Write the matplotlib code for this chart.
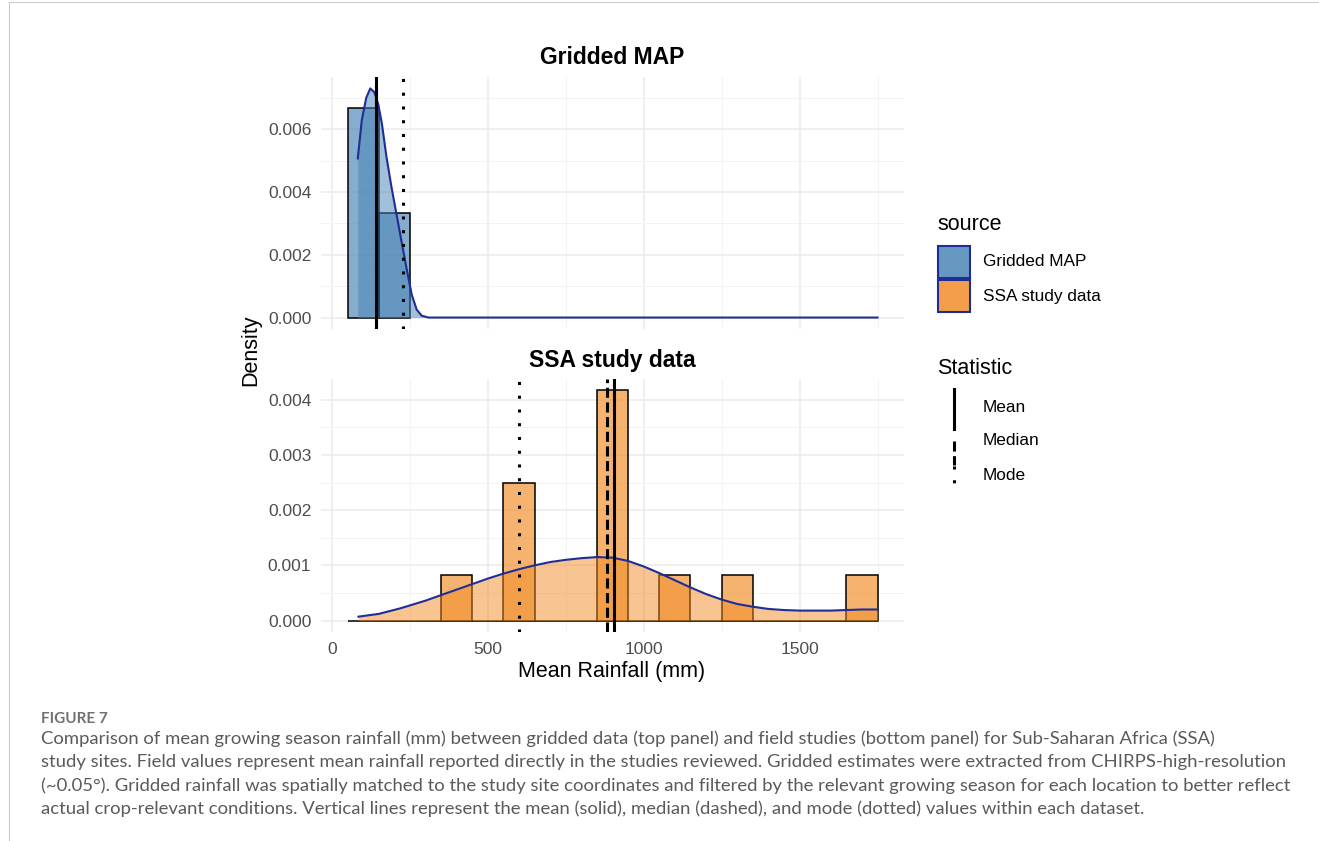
import matplotlib
matplotlib.use("Agg")
import matplotlib.pyplot as plt
from matplotlib.colors import to_rgba
from matplotlib.lines import Line2D
from matplotlib.patches import Rectangle
from matplotlib.ticker import MultipleLocator, FormatStrFormatter

# --- data ---
bin_width = 100

grid_bin_left = [50, 150]
grid_density = [0.00667, 0.00333]

ssa_bin_left = [50, 150, 250, 350, 450, 550, 650, 750, 850, 950, 1050,
                1150, 1250, 1350, 1450, 1550, 1650]
ssa_density = [0, 0, 0, 0.00083, 0, 0.0025, 0, 0, 0.00417, 0, 0.00083,
               0, 0.00083, 0, 0, 0, 0.00083]

grid_kde_x = [83, 96, 110, 123, 136, 149, 160, 175, 191, 207, 223, 239,
              256, 272, 288, 310, 400, 1000, 1750]
grid_kde_y = [0.00507, 0.0063, 0.0070, 0.0073, 0.00718, 0.00678, 0.0062,
              0.00512, 0.00416, 0.0033, 0.00244, 0.00159, 0.00073, 0.00025,
              0.00006, 0.0, 0.0, 0.0, 0.0]

ssa_kde_x = [85, 150, 219, 300, 350, 400, 450, 500, 550, 600, 650, 700, 750,
             800, 850, 900, 950, 1000, 1050, 1100, 1150, 1200, 1250, 1300,
             1350, 1400, 1450, 1500, 1550, 1600, 1650, 1700, 1750]
ssa_kde_y = [0.00007, 0.00012, 0.00022, 0.00036, 0.00046, 0.00056, 0.00066,
             0.00076, 0.00085, 0.00093, 0.00100, 0.00106, 0.00110, 0.00113,
             0.00115, 0.00114, 0.00108, 0.00098, 0.00086, 0.00073, 0.00060,
             0.00048, 0.00038, 0.00030, 0.00025, 0.00021, 0.00019, 0.00018,
             0.00018, 0.00018, 0.00019, 0.00020, 0.00020]

grid_stats = {"Mean": 140, "Median": 140, "Mode": 229}
ssa_stats = {"Mean": 905, "Median": 883, "Mode": 600}

sources = ["Gridded MAP", "SSA study data"]
stat_names = ["Mean", "Median", "Mode"]

# --- styling ---
W, H = 1319, 841
blue = "#4682B4"
orange = "#F28A24"
navy = "#1F2D96"
hist_alpha = 0.65
dens_alpha = 0.5
grid_major = "#EBEBEB"
grid_minor = "#F3F3F3"
stat_styles = {"Mean": "-", "Median": (0, (3.3, 1.5)), "Mode": (0, (1, 3.5))}

plt.rcParams["font.family"] = ["Liberation Sans", "DejaVu Sans"]


def fx(x):
    return x / W


def fy(y):
    return 1 - y / H


fig = plt.figure(figsize=(W / 100, H / 100), dpi=100)

ax1 = fig.add_axes([fx(321), fy(329), 583 / W, 252 / H])
ax2 = fig.add_axes([fx(321), fy(632), 583 / W, 253 / H])

panels = [
    (ax1, sources[0], blue, grid_bin_left, grid_density, grid_kde_x, grid_kde_y,
     grid_stats, (-0.000365, 0.007665), 0.002, 0.001),
    (ax2, sources[1], orange, ssa_bin_left, ssa_density, ssa_kde_x, ssa_kde_y,
     ssa_stats, (-0.000208, 0.004378), 0.001, 0.0005),
]

for ax, title, col, left, dens, kx, ky, stats, ylim, ymaj, ymin in panels:
    ax.bar(left, dens, width=bin_width, align="edge", color=col, alpha=hist_alpha,
           edgecolor="none", zorder=2)
    ax.bar(left, dens, width=bin_width, align="edge", color="none",
           edgecolor="black", linewidth=1.1, zorder=2.1)
    ax.fill_between(kx, ky, color=col, alpha=dens_alpha, linewidth=0, zorder=3)
    ax.plot(kx, ky, color=navy, linewidth=1.5, zorder=4)
    for name in ["Median", "Mode", "Mean"]:
        ax.axvline(stats[name], color="black", linewidth=2.2,
                   linestyle=stat_styles[name], dash_capstyle="butt", zorder=5)

    ax.set_xlim(-35, 1835)
    ax.set_ylim(*ylim)
    ax.xaxis.set_major_locator(MultipleLocator(500))
    ax.xaxis.set_minor_locator(MultipleLocator(250))
    ax.yaxis.set_major_locator(MultipleLocator(ymaj))
    ax.yaxis.set_minor_locator(MultipleLocator(ymin))
    ax.yaxis.set_major_formatter(FormatStrFormatter("%.3f"))
    ax.grid(which="major", color=grid_major, linewidth=1.1)
    ax.grid(which="minor", color=grid_minor, linewidth=0.7)
    ax.set_axisbelow(True)
    for s in ax.spines.values():
        s.set_visible(False)
    ax.tick_params(which="both", length=0, labelsize=12.5, labelcolor="#4D4D4D",
                   pad=7)
    ax.set_title(title, fontsize=16.5, fontweight="bold", pad=9)

ax1.tick_params(axis="x", labelbottom=False)

fig.text(fx(612), fy(672), "Mean Rainfall (mm)", fontsize=15.5, ha="center",
         va="center")
fig.text(fx(251), fy(350), "Density", fontsize=15.5, ha="center", va="center",
         rotation=90)

# --- legends drawn by hand ---
key_alpha = 1 - (1 - hist_alpha) * (1 - dens_alpha)
fig.text(fx(937), fy(225), "source", fontsize=15.5, va="center")
for i, (name, col) in enumerate(zip(sources, [blue, orange])):
    top = 246 + i * 34
    fig.add_artist(Rectangle((fx(938), fy(top + 32)), 32 / W, 32 / H,
                             transform=fig.transFigure,
                             facecolor=to_rgba(col, key_alpha),
                             edgecolor=navy, linewidth=1.5))
    fig.text(fx(983), fy(top + 16), name, fontsize=12.4, va="center")

fig.text(fx(937), fy(369), "Statistic", fontsize=15.5, va="center")
key_spans = {"Mean": (389, 429), "Median": (441, 465), "Mode": (466, 492)}
for i, name in enumerate(stat_names):
    y0, y1 = key_spans[name]
    fig.add_artist(Line2D([fx(954), fx(954)], [fy(y0), fy(y1)],
                          transform=fig.transFigure, color="black",
                          linewidth=2.2, linestyle=stat_styles[name],
                          dash_capstyle="butt"))
    fig.text(fx(983), fy(407 + i * 34), name, fontsize=12.4, va="center")

# --- page frame and caption ---
fig.add_artist(Line2D([fx(9), 1], [fy(2), fy(2)], transform=fig.transFigure,
                      color="#CCCCCC", linewidth=0.8))
fig.add_artist(Line2D([fx(9), fx(9)], [fy(2), 0], transform=fig.transFigure,
                      color="#CCCCCC", linewidth=0.8))

cap_font = ["Lato", "DejaVu Sans"]
fig.text(fx(41), fy(719), "FIGURE 7", fontsize=11, color="#707070",
         family=cap_font, fontweight="bold", va="center")
caption = [
    "Comparison of mean growing season rainfall (mm) between gridded data (top panel) and field studies (bottom panel) for Sub-Saharan Africa (SSA)",
    "study sites. Field values represent mean rainfall reported directly in the studies reviewed. Gridded estimates were extracted from CHIRPS-high-resolution",
    "(~0.05\u00b0). Gridded rainfall was spatially matched to the study site coordinates and filtered by the relevant growing season for each location to better reflect",
    "actual crop-relevant conditions. Vertical lines represent the mean (solid), median (dashed), and mode (dotted) values within each dataset.",
]
for i, line in enumerate(caption):
    fig.text(fx(41), fy(739 + i * 23.2), line, fontsize=13.3, color="#5A5A5A",
             family=cap_font, va="center")

fig.savefig("out.png", dpi=100)
